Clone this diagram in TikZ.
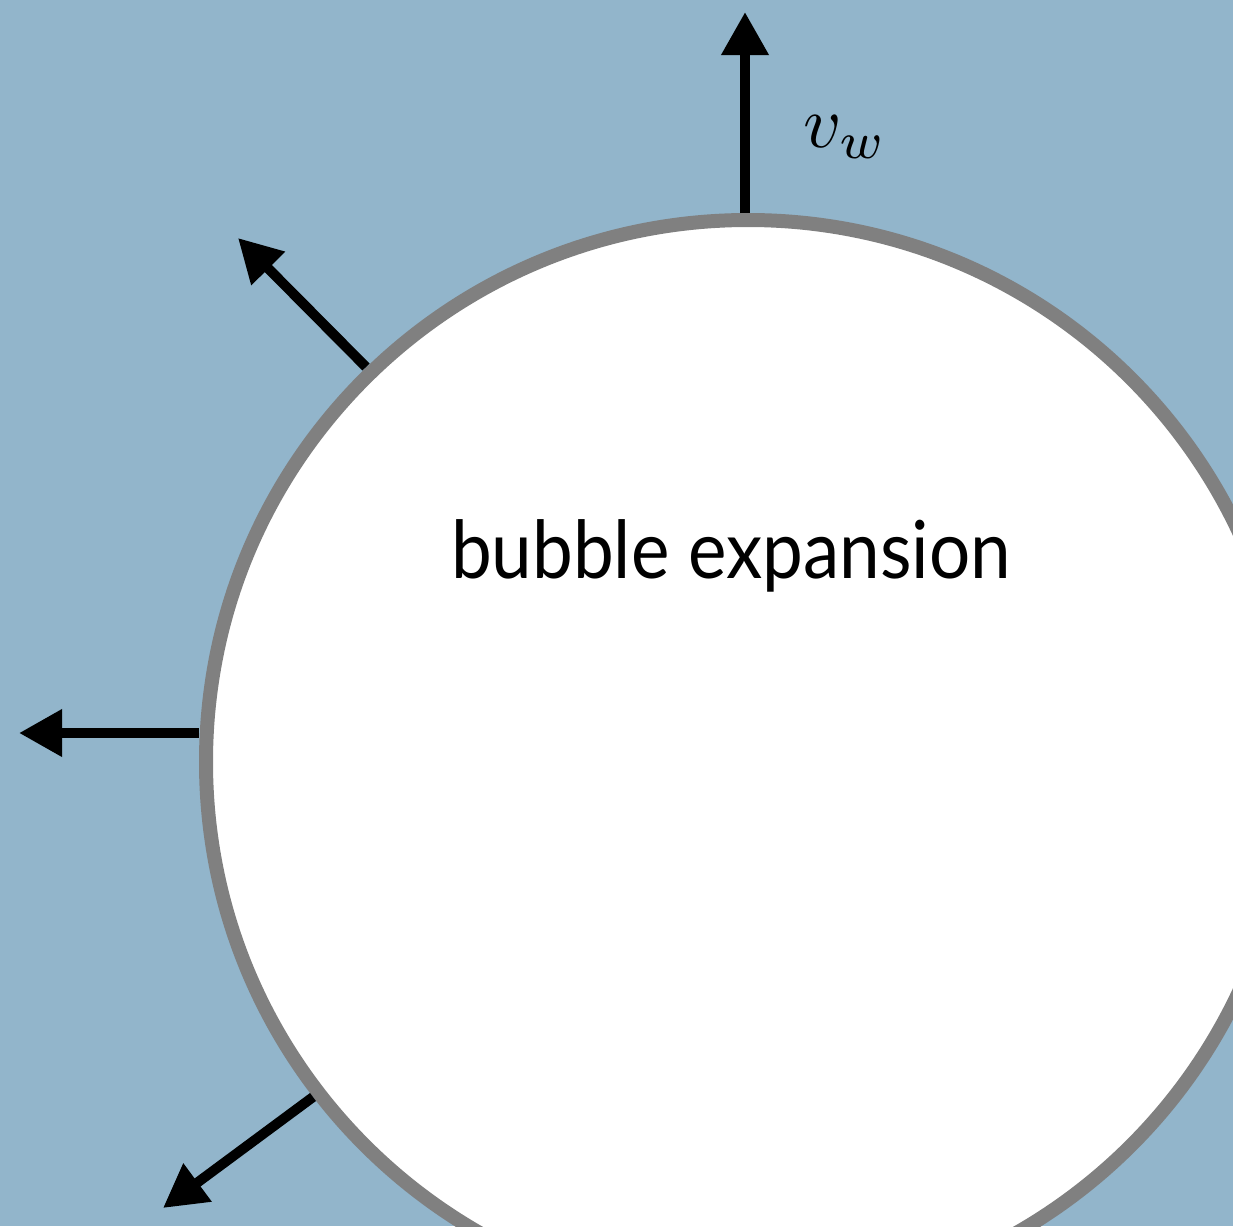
\documentclass[tikz,border=0pt]{standalone}
\usepackage{graphicx}
\usepackage{fontspec}
\setmainfont{Lato}
\usetikzlibrary{arrows.meta}
\definecolor{bgblue}{RGB}{146,181,203}
\definecolor{rimgray}{RGB}{128,128,128}
\tikzset{
  outarrow/.style={draw=black, line width=10pt, -{Triangle[length=43pt,width=45pt]}},
  rim/.style={draw=rimgray, line width=14pt, fill=white}
}
\begin{document}
\begin{tikzpicture}[x=1pt,y=-1pt]
\useasboundingbox (0,0) rectangle (1233,1226);
\clip (0,0) rectangle (1233,1226);
\fill[bgblue] (0,0) rectangle (1233,1226);
\node[rim, circle, minimum size=1084pt, inner sep=0pt] (bubble) at (748,762) {};
\coordinate (topS) at (745,213);
\coordinate (topT) at (745,12);
\coordinate (ulS) at (366,367);
\coordinate (ulT) at (238,238);
\coordinate (lS) at (199,733);
\coordinate (lT) at (19,733);
\coordinate (blS) at (313,1097);
\coordinate (blT) at (163,1208);
\draw[outarrow] (topS) -- (topT);
\draw[outarrow] (ulS) -- (ulT);
\draw[outarrow] (lS) -- (lT);
\draw[outarrow] (blS) -- (blT);
\node[anchor=base, inner sep=0pt, font=\fontsize{80}{96}\selectfont] (label) at (731,578) {\scalebox{0.91}[1]{bubble expansion}};
\node[anchor=base west, inner sep=0pt] (vw) at (803,147) {\scalebox{7.4}{$v_w$}};
\end{tikzpicture}
\end{document}
